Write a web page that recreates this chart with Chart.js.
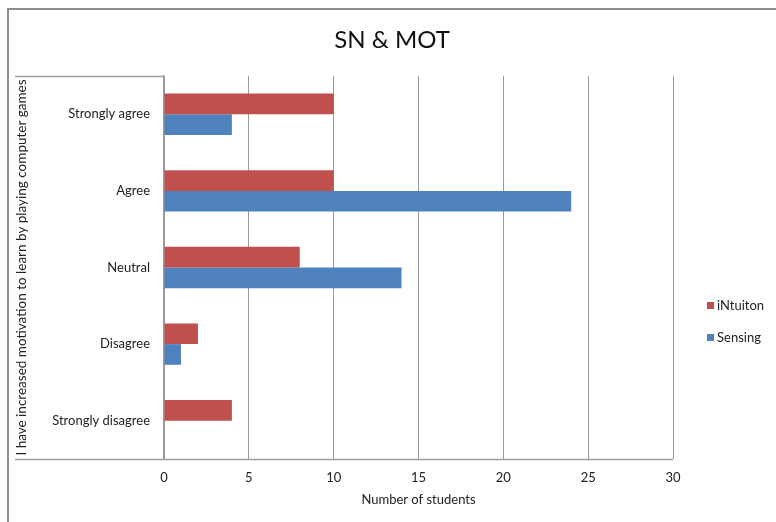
<!DOCTYPE html>
<html>
<head>
<meta charset="utf-8">
<script src="https://cdn.jsdelivr.net/npm/chart.js@4.4.0/dist/chart.umd.min.js"></script>
<style>
  html, body { margin: 0; padding: 0; background: #fff; }
  #wrap { position: relative; width: 776px; height: 522px; }
  #title { position: absolute; left: 292px; width: 200px; top: 24px; text-align: center; font-family: Lato, sans-serif; font-size: 24px; color: #111; line-height: 30px; }
  .leg { position: absolute; font-family: Lato, sans-serif; font-size: 13px; color: #222; line-height: 16px; white-space: nowrap; }
  .leg span.sw { display: inline-block; width: 7px; height: 7px; margin-right: 3px; vertical-align: 1px; }
</style>
</head>
<body>
<div id="wrap">
  <canvas id="c" width="776" height="522"></canvas>
  <div id="title"></div>
  <div id="legend"></div>
</div>
<script>
const chartTitle = "SN & MOT";
const categories = ["Strongly agree", "Agree", "Neutral", "Disagree", "Strongly disagree"];
const seriesNames = ["iNtuiton", "Sensing"];
const intuitionValues = [10, 10, 8, 2, 4];
const sensingValues = [4, 24, 14, 1, 0];
const xTicks = [0, 5, 10, 15, 20, 25, 30];
const yAxisTitle = "I have increased motivation to learn by playing computer games";
const xAxisTitle = "Number of students";
const colors = ["#C0504D", "#4F81BD"];

const FONT = "Lato, 'Open Sans', sans-serif";

document.getElementById('title').textContent = chartTitle;

const framePlugin = {
  id: 'frame',
  afterDraw(chart) {
    const ctx = chart.ctx;
    const a = chart.chartArea;
    ctx.save();
    ctx.strokeStyle = '#8e8e8e';
    ctx.lineWidth = 2;
    ctx.beginPath();
    ctx.moveTo(8, 522);
    ctx.lineTo(8, 9);
    ctx.lineTo(776, 9);
    ctx.stroke();
    ctx.strokeStyle = '#a0a0a0';
    ctx.lineWidth = 1.5;
    ctx.beginPath();
    ctx.moveTo(15, Math.round(a.top) + 0.5);
    ctx.lineTo(a.left, Math.round(a.top) + 0.5);
    ctx.moveTo(15, Math.round(a.bottom) + 0.5);
    ctx.lineTo(a.right, Math.round(a.bottom) + 0.5);
    ctx.stroke();
    ctx.restore();
  }
};

const chart = new Chart(document.getElementById('c'), {
  type: 'bar',
  data: {
    labels: categories,
    datasets: [
      { label: seriesNames[0], data: intuitionValues, backgroundColor: colors[0] },
      { label: seriesNames[1], data: sensingValues, backgroundColor: colors[1] }
    ]
  },
  options: {
    indexAxis: 'y',
    responsive: false,
    animation: false,
    devicePixelRatio: 1,
    categoryPercentage: 0.54,
    barPercentage: 1.0,
    layout: { padding: { left: 10, right: 103, top: 76, bottom: 0 } },
    plugins: {
      legend: { display: false },
      tooltip: { enabled: false },
      title: { display: false }
    },
    scales: {
      x: {
        min: 0, max: 30,
        afterBuildTicks(scale) { scale.ticks = xTicks.map(v => ({ value: v })); },
        grid: { color: '#999', lineWidth: 1, drawTicks: false },
        border: { display: false },
        ticks: { color: '#222', padding: 11, font: { family: FONT, size: 13 } },
        title: { display: true, text: xAxisTitle, color: '#222', font: { family: FONT, size: 13 }, padding: { top: 4, bottom: 14 } },
        afterFit(scale) { scale.height = 63; }
      },
      y: {
        grid: { display: false, drawTicks: false },
        border: { display: true, color: '#999', width: 1.5 },
        ticks: { color: '#222', padding: 14, font: { family: FONT, size: 13 } },
        title: { display: true, text: yAxisTitle, color: '#222', font: { family: FONT, size: 13.5 }, padding: { top: 4, bottom: 4 } },
        afterFit(scale) { scale.width = 154; }
      }
    }
  },
  plugins: [framePlugin]
});

// HTML legend built from the dataset names/colours
const legendTops = [297, 329];
const legEl = document.getElementById('legend');
seriesNames.forEach((name, i) => {
  const d = document.createElement('div');
  d.className = 'leg';
  d.style.left = '707px';
  d.style.top = legendTops[i] + 'px';
  d.innerHTML = '<span class="sw" style="background:' + colors[i] + '"></span>' + name;
  legEl.appendChild(d);
});
</script>
</body>
</html>
